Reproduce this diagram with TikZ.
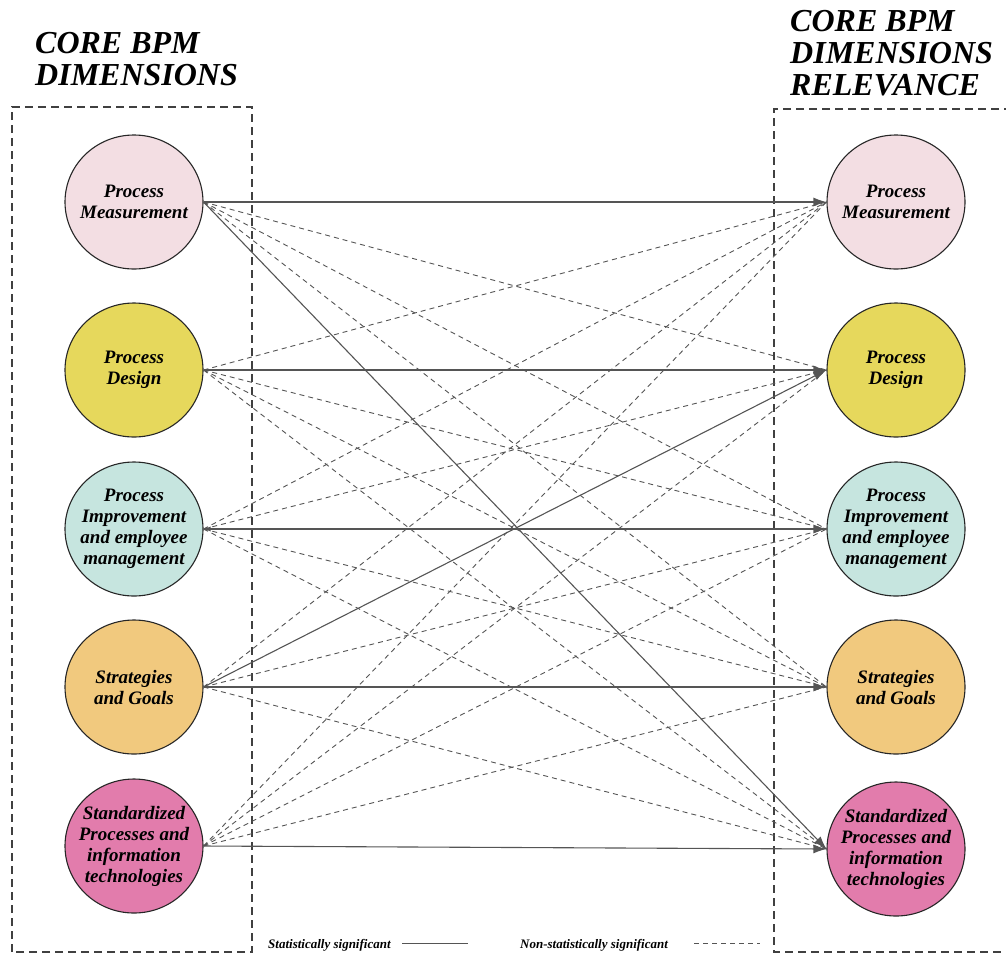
\documentclass[tikz,border=0pt]{standalone}
\usepackage{fontspec}
\setmainfont{Liberation Serif}
\usetikzlibrary{arrows.meta,shapes.geometric}
\definecolor{pmfill}{HTML}{F3DEE3}
\definecolor{pdfill}{HTML}{E6D85C}
\definecolor{pifill}{HTML}{C6E5DF}
\definecolor{sgfill}{HTML}{F1C97E}
\definecolor{spfill}{HTML}{E27CAC}
\definecolor{linegray}{HTML}{555555}
\begin{document}
\begin{tikzpicture}[x=1pt,y=-1pt,
  dimnode/.style={ellipse,draw=black!85,line width=1.1pt,minimum width=138pt,minimum height=134pt,
    inner sep=0pt,label={[dimtext]center:#1}},
  dimtext/.style={align=center,inner sep=0pt,font=\bfseries\itshape\fontsize{19}{21}\selectfont},
  title/.style={anchor=base west,align=left,inner sep=0pt,font=\bfseries\itshape\fontsize{32}{32}\selectfont},
  framebox/.style={draw=black!75,line width=1.6pt,dash pattern=on 8pt off 5pt},
  sig/.style={draw=linegray,line width=1.1pt,-{Latex[length=13pt,width=9pt]}},
  nsig/.style={draw=linegray,line width=0.9pt,dash pattern=on 5pt off 4pt},
  legend/.style={anchor=base west,inner sep=0pt,font=\bfseries\itshape\fontsize{13}{13}\selectfont}]
\useasboundingbox (0,0) rectangle (1006,954);

% dashed frames of the two columns
\draw[framebox] (12,952) -- (12,107) -- (252,107) -- (252,952) -- cycle;
\draw[framebox] (1012,109) -- (774,109) -- (774,952) -- (1012,952);

% column headings (anchored at the baseline of the last line)
\node[title] (tl) at (35,85) {CORE BPM\\DIMENSIONS};
\node[title] (tr) at (790,95) {CORE BPM\\DIMENSIONS\\RELEVANCE};

% dimensions (left)
\node[dimnode={Process\\Measurement},fill=pmfill] (l1) at (134,202) {};
\node[dimnode={Process\\Design},fill=pdfill] (l2) at (134,370) {};
\node[dimnode={Process\\Improvement\\and employee\\management},fill=pifill] (l3) at (134,529) {};
\node[dimnode={Strategies\\and Goals},fill=sgfill] (l4) at (134,687) {};
\node[dimnode={Standardized\\Processes and\\information\\technologies},fill=spfill] (l5) at (134,846) {};

% dimensions relevance (right)
\node[dimnode={Process\\Measurement},fill=pmfill] (r1) at (896,202) {};
\node[dimnode={Process\\Design},fill=pdfill] (r2) at (896,370) {};
\node[dimnode={Process\\Improvement\\and employee\\management},fill=pifill] (r3) at (896,529) {};
\node[dimnode={Strategies\\and Goals},fill=sgfill] (r4) at (896,687) {};
\node[dimnode={Standardized\\Processes and\\information\\technologies},fill=spfill] (r5) at (896,849) {};

% non-significant relations
\foreach \a/\b in {1/2,1/3,1/4,
                   2/1,2/3,2/4,2/5,
                   3/1,3/2,3/4,3/5,
                   4/1,4/3,4/5,
                   5/1,5/2,5/3,5/4}
  \draw[nsig] (l\a.east) -- (r\b.west);

% significant relations
\draw[sig] (l1.east) -- (r1.west);
\draw[sig] (l1.east) -- (r5.west);
\draw[sig] (l2.east) -- (r2.west);
\draw[sig,{Latex[length=7pt,width=5pt]}-{Latex[length=13pt,width=9pt]}] (l3.east) -- (r3.west);
\draw[sig] (l4.east) -- (r4.west);
\draw[sig] (l4.east) -- (r2.west);
\draw[sig] (l5.east) -- (r5.west);

% legend
\node[legend] (ls) at (268,948) {Statistically significant};
\coordinate (lsa) at (402,943);
\coordinate (lsb) at (468,943);
\draw[draw=linegray,line width=0.9pt] (lsa) -- (lsb);
\node[legend] (ln) at (520,948) {Non-statistically significant};
\coordinate (lna) at (694,943);
\coordinate (lnb) at (760,943);
\draw[nsig,line width=0.7pt] (lna) -- (lnb);
\end{tikzpicture}
\end{document}
